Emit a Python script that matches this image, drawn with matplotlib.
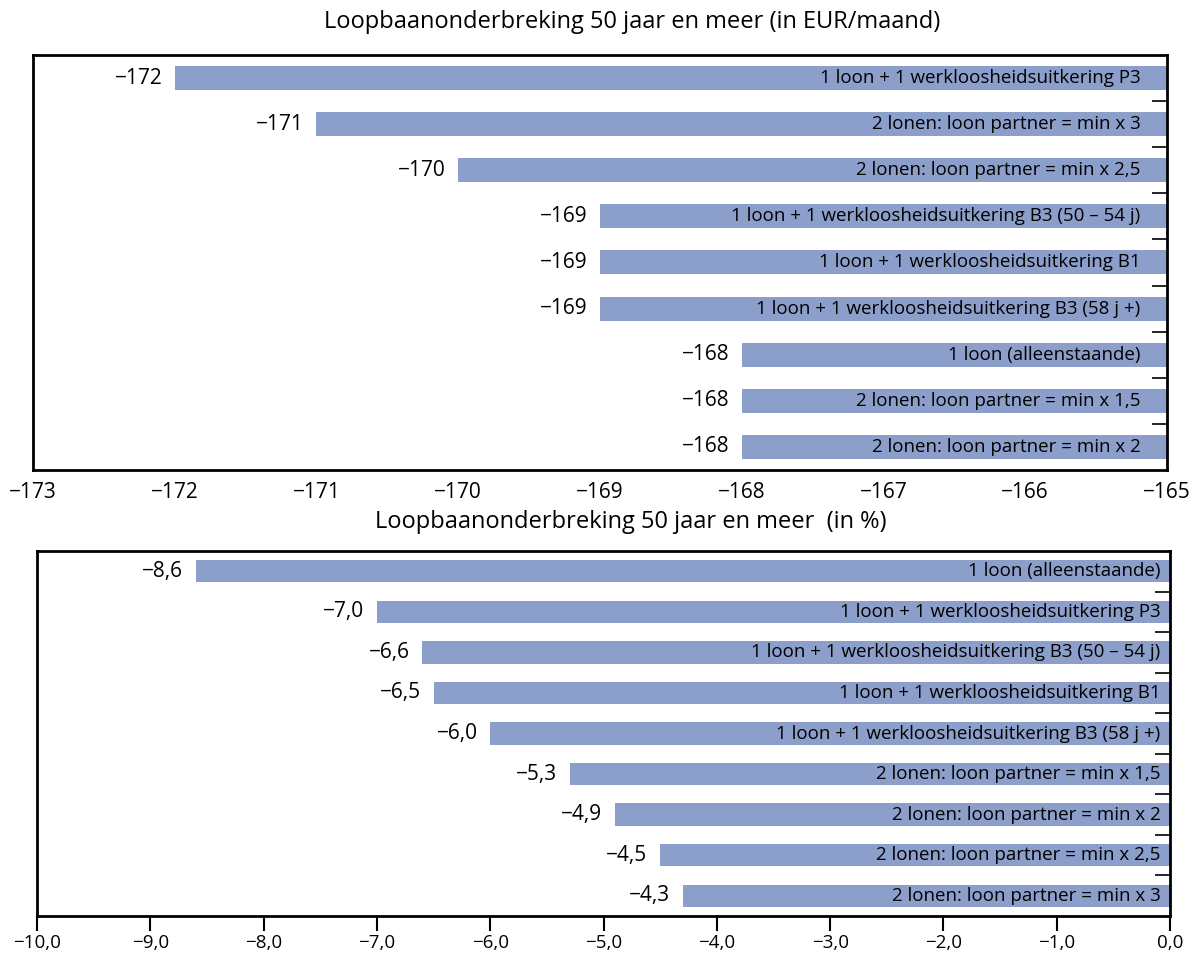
import numpy as np
import matplotlib.pyplot as plt
from matplotlib.ticker import FixedLocator

plt.rcParams["font.family"] = ["Open Sans", "DejaVu Sans"]

BAR_COLOR = "#8c9fcb"

# top panel: EUR/month
eur_labels = [
    "1 loon + 1 werkloosheidsuitkering P3",
    "2 lonen: loon partner = min x 3",
    "2 lonen: loon partner = min x 2,5",
    "1 loon + 1 werkloosheidsuitkering B3 (50 – 54 j)",
    "1 loon + 1 werkloosheidsuitkering B1",
    "1 loon + 1 werkloosheidsuitkering B3 (58 j +)",
    "1 loon (alleenstaande)",
    "2 lonen: loon partner = min x 1,5",
    "2 lonen: loon partner = min x 2",
]
eur_values = [-172, -171, -170, -169, -169, -169, -168, -168, -168]

# bottom panel: percent
pct_labels = [
    "1 loon (alleenstaande)",
    "1 loon + 1 werkloosheidsuitkering P3",
    "1 loon + 1 werkloosheidsuitkering B3 (50 – 54 j)",
    "1 loon + 1 werkloosheidsuitkering B1",
    "1 loon + 1 werkloosheidsuitkering B3 (58 j +)",
    "2 lonen: loon partner = min x 1,5",
    "2 lonen: loon partner = min x 2",
    "2 lonen: loon partner = min x 2,5",
    "2 lonen: loon partner = min x 3",
]
pct_values = [-8.6, -7.0, -6.6, -6.5, -6.0, -5.3, -4.9, -4.5, -4.3]

fig = plt.figure(figsize=(11.99, 9.55), dpi=100)
ax1 = fig.add_axes([0.0275, 0.5079, 0.9458, 0.4345])
ax2 = fig.add_axes([0.0309, 0.0408, 0.9449, 0.3822])


def draw(ax, labels, values, xmin, xmax, height, fmt, inner_pad, lab_size, val_size):
    n = len(values)
    y = np.arange(n)
    ax.barh(y, [xmax - v for v in values], left=values, height=height,
            color=BAR_COLOR, zorder=2)
    ax.set_xlim(xmin, xmax)
    ax.set_ylim(n - 0.5, -0.5)
    for i, (v, lab) in enumerate(zip(values, labels)):
        ax.annotate(fmt(v), (v, i), xytext=(-9, 0), textcoords="offset points",
                    ha="right", va="center", fontsize=val_size)
        ax.annotate(lab, (xmax, i), xytext=(-inner_pad, 0), textcoords="offset points",
                    ha="right", va="center", fontsize=lab_size)
    ax.yaxis.tick_right()
    ax.yaxis.set_major_locator(FixedLocator(np.arange(n - 1) + 0.5))
    ax.tick_params(axis="y", direction="in", length=11, width=1.2, labelright=False)
    for s in ax.spines.values():
        s.set_linewidth(2)


draw(ax1, eur_labels, eur_values, -173, -165, 0.52,
     lambda v: f"{v:d}".replace("-", "\u2212"), 19, 13.5, 15)
ax1.set_xticks(np.arange(-173, -164, 1))
ax1.set_xticklabels([f"\u2212{abs(t)}" for t in range(-173, -164)])
ax1.tick_params(axis="x", length=0, pad=9, labelsize=15)

draw(ax2, pct_labels, pct_values, -10, 0, 0.55,
     lambda v: f"\u2212{abs(v):.1f}".replace(".", ","), 7, 13.5, 15)
ticks = np.arange(-10, 1, 1)
ax2.set_xticks(ticks)
ax2.set_xticklabels([("\u2212" if t < 0 else "") + f"{abs(t):.1f}".replace(".", ",") for t in ticks])
ax2.tick_params(axis="x", direction="out", length=11, width=1.5, pad=2, labelsize=13.5)

fig.text(0.527, 0.977, "Loopbaanonderbreking 50 jaar en meer (in EUR/maand)",
         ha="center", va="center", fontsize=17)
fig.text(0.526, 0.453, "Loopbaanonderbreking 50 jaar en meer  (in %)",
         ha="center", va="center", fontsize=17)

fig.savefig("out.png", dpi=100)
